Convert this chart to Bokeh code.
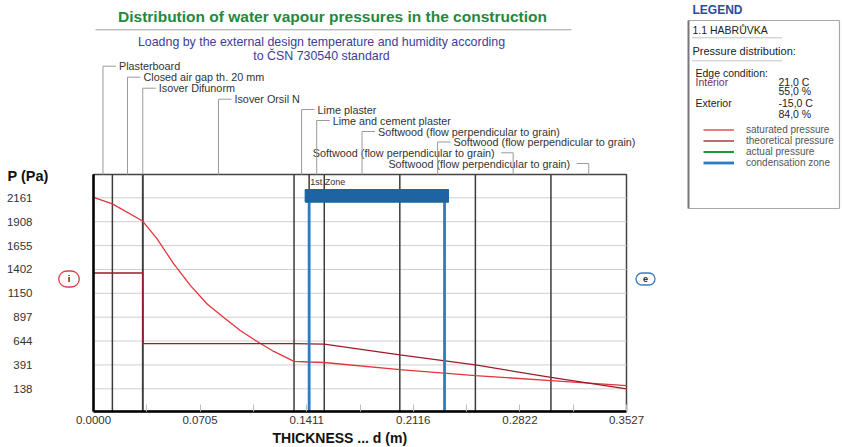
import numpy as np
from bokeh.plotting import figure
from bokeh.models import (FixedTicker, NumeralTickFormatter, Label, Arrow,
                          ColumnDataSource, Legend, LegendItem)
from bokeh.embed import file_html
from bokeh.resources import INLINE

# ---------------- data ----------------
layer_names = [
    "Plasterboard",
    "Closed air gap  th. 20 mm",
    "Isover Difunorm",
    "Isover Orsil N",
    "Lime plaster",
    "Lime and cement plaster",
    "Softwood (flow perpendicular to grain)",
    "Softwood (flow perpendicular to grain)",
    "Softwood (flow perpendicular to grain)",
    "Softwood (flow perpendicular to grain)",
]
layer_thickness = [0.0125, 0.02, 0.0002, 0.1, 0.01, 0.01, 0.05, 0.05, 0.05, 0.05]

sat_d = [0.0, 0.0125, 0.0325, 0.0421, 0.0531, 0.0642, 0.0752, 0.0862, 0.0973,
         0.1083, 0.1193, 0.1327, 0.1427, 0.1527, 0.2027, 0.2527, 0.3027, 0.3527]
sat_p = [2165, 2097, 1915, 1726, 1461, 1231, 1036, 894, 753,
         640, 534, 428, 422, 417, 341, 278, 226, 172]

theo_d = [0.0, 0.0325, 0.0327, 0.1327, 0.1527, 0.2027, 0.2527, 0.3027, 0.3527]
theo_p = [1365, 1365, 618, 617, 612, 497, 391, 259, 138]

# actual pressure is not distinguishable from the theoretical one in the picture
act_d = theo_d
act_p = theo_p

cond_zone = [0.1427, 0.2323]

x_ticks = [0.0, 0.0705, 0.1411, 0.2116, 0.2822, 0.3527]
y_ticks = [138, 391, 644, 897, 1150, 1402, 1655, 1908, 2161]

interior = ["21,0 C", "55,0 %"]
exterior = ["-15,0 C", "84,0 %"]
legend_labels = ["saturated pressure", "theoretical pressure", "actual pressure", "condensation zone"]

# ---------------- layout helpers ----------------
W, H = 842, 447
X_PLOT = (0.0, 0.3527)
Y_PLOT = (-102, 2408)
FL, FR, FT, FB = 93, 626, 174, 411  # plot-area edges in pixels


def dx(px):
    return X_PLOT[0] + (px - FL) * (X_PLOT[1] - X_PLOT[0]) / (FR - FL)


def dy(py):
    return Y_PLOT[0] + (FB - py) * (Y_PLOT[1] - Y_PLOT[0]) / (FB - FT)


PXM = (X_PLOT[1] - X_PLOT[0]) / (FR - FL)
FONT = "Liberation Sans"

p = figure(width=W, height=H, x_range=(dx(0), dx(W)), y_range=(dy(H), dy(0)),
           output_backend="svg", toolbar_location=None, min_border=0,
           background_fill_color="white", border_fill_color="white")
p.outline_line_color = None
p.xgrid.visible = False
p.ygrid.visible = False

# plot-area frame and grid
p.quad(left=[X_PLOT[0]], right=[X_PLOT[1]], bottom=[Y_PLOT[0]], top=[Y_PLOT[1]],
       fill_color="white", line_color="#444444", line_width=1.5)
p.segment(x0=[X_PLOT[0]] * len(y_ticks), x1=[X_PLOT[1]] * len(y_ticks), y0=y_ticks, y1=y_ticks,
          line_color="#cfcfcf", line_width=1)

# axes fixed on the plot area
minor = [(a + b) / 2 for a, b in zip(x_ticks[:-1], x_ticks[1:])]
p.xaxis.fixed_location = Y_PLOT[0]
p.xaxis.bounds = X_PLOT
p.xaxis.ticker = FixedTicker(ticks=x_ticks, minor_ticks=minor)
p.xaxis.formatter = NumeralTickFormatter(format="0.0000")
p.xaxis.axis_line_color = "black"
p.xaxis.axis_line_width = 2.5
p.xaxis.major_tick_in = 7
p.xaxis.major_tick_out = 0
p.xaxis.minor_tick_in = 7
p.xaxis.minor_tick_out = 0
p.xaxis.major_tick_line_color = "#bbbbbb"
p.xaxis.minor_tick_line_color = "#bbbbbb"
p.xaxis.major_label_standoff = 4
p.xaxis.major_label_text_font = FONT
p.xaxis.major_label_text_font_size = "11.5px"
p.xaxis.major_label_text_color = "#333333"

p.yaxis.fixed_location = X_PLOT[0]
p.yaxis.bounds = Y_PLOT
p.yaxis.ticker = FixedTicker(ticks=y_ticks)
p.yaxis.formatter = NumeralTickFormatter(format="0")
p.yaxis.axis_line_color = "black"
p.yaxis.axis_line_width = 2.5
p.yaxis.major_tick_in = 0
p.yaxis.major_tick_out = 0
p.yaxis.minor_tick_line_color = None
p.yaxis.major_label_standoff = 61
p.yaxis.major_label_text_font = FONT
p.yaxis.major_label_text_font_size = "11.5px"
p.yaxis.major_label_text_color = "#333333"

# layer boundaries
bounds = np.concatenate([[0.0], np.cumsum(layer_thickness)])
centers = (bounds[:-1] + bounds[1:]) / 2
inner = [float(b) for b in bounds[1:-1]]
p.segment(x0=inner, x1=inner, y0=[Y_PLOT[0]] * len(inner), y1=[Y_PLOT[1]] * len(inner),
          line_color="#3c3c3c", line_width=1.5)

# curves
act_r = p.line(act_d, act_p, line_color="#1f9a3a", line_width=2, visible=False)
sat_r = p.line(sat_d, sat_p, line_color="#e0353b", line_width=1.3)
theo_r = p.line(theo_d, theo_p, line_color="#9c1b2a", line_width=1.3)

# condensation zone
bar_top, bar_bot = dy(189), dy(201.7)
zone_r = p.segment(x0=cond_zone, y0=[Y_PLOT[0]] * 2, x1=cond_zone, y1=[bar_bot] * 2,
                   line_color="#2a7cc4", line_width=2.8)
p.quad(left=[cond_zone[0] - 4 * PXM], right=[cond_zone[1] + 4 * PXM],
       bottom=[bar_bot], top=[bar_top], fill_color="#1c64a2", line_color="#1c64a2")
p.add_layout(Label(x=cond_zone[0] + 1 * PXM, y=dy(181), text="1st Zone", text_font=FONT,
                   text_font_size="9px", text_color="#333333", text_baseline="middle"))


def add_text(px, py, text, size, color="#333333", bold=False, align="left"):
    p.add_layout(Label(x=dx(px), y=dy(py), text=text, text_font=FONT, text_font_size=size,
                       text_color=color, text_font_style="bold" if bold else "normal",
                       text_align=align, text_baseline="middle"))


# leaders + layer labels
label_rows = [65.7, 76.7, 87.7, 98.7, 109, 120, 131, 141.5, 152.3, 163]
label_side = ["r"] * 8 + ["l", "l"]
seg = dict(x0=[], y0=[], x1=[], y1=[])
for i, name in enumerate(layer_names):
    cx = float(centers[i])
    ry = dy(label_rows[i])
    seg["x0"].append(cx); seg["y0"].append(Y_PLOT[1]); seg["x1"].append(cx); seg["y1"].append(ry)
    if label_side[i] == "r":
        seg["x0"].append(cx); seg["y0"].append(ry); seg["x1"].append(cx + 13 * PXM); seg["y1"].append(ry)
        p.add_layout(Label(x=cx + 16 * PXM, y=ry, text=name, text_font=FONT, text_font_size="10.8px",
                           text_color="#333333", text_baseline="middle"))
    else:
        seg["x0"].append(cx - 12 * PXM); seg["y0"].append(ry); seg["x1"].append(cx); seg["y1"].append(ry)
        p.add_layout(Label(x=cx - 18.5 * PXM, y=ry, text=name, text_font=FONT, text_font_size="10.8px",
                           text_color="#333333", text_baseline="middle", text_align="right"))
p.add_layout(Arrow(end=None, x_start="x0", y_start="y0", x_end="x1", y_end="y1",
                   source=ColumnDataSource(seg), line_color="#9a9a9a", line_width=1))

# title block
add_text(332, 15.5, "Distribution of water vapour pressures in the construction", "15.5px",
         color="#1f8a3c", bold=True, align="center")
p.add_layout(Arrow(end=None, x_start=dx(95), y_start=dy(29.3), x_end=dx(571), y_end=dy(29.3),
                   line_color="#a0a0a0", line_width=1))
add_text(321, 41.5, "Loadng by the external design temperature and humidity according", "12.4px",
         color="#3d3d99", align="center")
add_text(321, 55.5, "to ČSN 730540 standard", "12.4px", color="#3d3d99", align="center")

# axis titles
add_text(7, 175.5, "P (Pa)", "14.5px", color="#111111", bold=True)
add_text(272, 437.5, "THICKNESS ... d (m)", "14px", color="#111111", bold=True)

# interior / exterior markers
p.add_layout(Label(x=dx(68.5), y=dy(278.5), text="i", text_font=FONT, text_font_size="9px",
                   text_font_style="bold", text_color="#222222", text_align="center",
                   text_baseline="middle", border_line_color="#d94040", border_line_width=1.3,
                   padding=(9, 3), border_radius=8))
p.add_layout(Label(x=dx(645), y=dy(278.5), text="e", text_font=FONT, text_font_size="9px",
                   text_font_style="bold", text_color="#222222", text_align="center",
                   text_baseline="middle", border_line_color="#3a7cc0", border_line_width=1.3,
                   padding=(7, 3), border_radius=8))

# legend panel
add_text(692, 9.5, "LEGEND", "12px", color="#2a4aa8", bold=True)
box = dict(x0=[dx(688), dx(688), dx(839)],
           y0=[dy(20), dy(208), dy(20)],
           x1=[dx(839), dx(839), dx(839)],
           y1=[dy(20), dy(208), dy(208)])
p.add_layout(Arrow(end=None, x_start="x0", y_start="y0", x_end="x1", y_end="y1",
                   source=ColumnDataSource(box), line_color="#a8a8a8", line_width=1.2))
p.add_layout(Arrow(end=None, x_start=dx(688), y_start=dy(20), x_end=dx(688), y_end=dy(208),
                   line_color="#777777", line_width=2))
dots = dict(x0=[dx(692), dx(692)], y0=[dy(37.3), dy(60.3)],
            x1=[dx(781), dx(781)], y1=[dy(37.3), dy(60.3)])
p.add_layout(Arrow(end=None, x_start="x0", y_start="y0", x_end="x1", y_end="y1",
                   source=ColumnDataSource(dots), line_color="#888888", line_width=1,
                   line_dash="1 1"))
add_text(692, 29, "1.1 HABRŮVKA", "10.5px", color="#222222")
add_text(692, 50, "Pressure distribution:", "11px", color="#222222")
add_text(695, 72, "Edge condition:", "10.5px", color="#222222")
add_text(695, 81, "Interior", "10.5px", color="#7a2a6a")
add_text(778, 81, interior[0], "10.5px", color="#222222")
add_text(778, 90.5, interior[1], "10.5px", color="#222222")
add_text(695, 102, "Exterior", "10.5px", color="#222222")
add_text(778, 102, exterior[0], "10.5px", color="#222222")
add_text(778, 113, exterior[1], "10.5px", color="#222222")

legend = Legend(items=[LegendItem(label=legend_labels[0], renderers=[sat_r]),
                       LegendItem(label=legend_labels[1], renderers=[theo_r]),
                       LegendItem(label=legend_labels[2], renderers=[act_r]),
                       LegendItem(label=legend_labels[3], renderers=[zone_r])],
                location=(703, H - 168), orientation="vertical",
                glyph_width=31, glyph_height=11, label_height=11, label_standoff=12,
                spacing=0, padding=0, margin=0,
                label_text_font=FONT, label_text_font_size="10px", label_text_color="#555555",
                background_fill_alpha=0, border_line_alpha=0)
p.add_layout(legend)

open("out.html", "w").write(file_html(p, INLINE))
